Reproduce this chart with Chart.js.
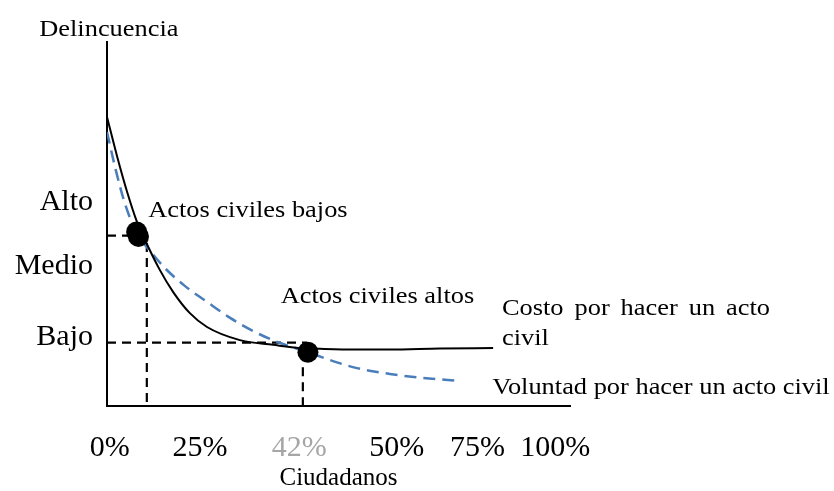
<!DOCTYPE html>
<html>
<head>
<meta charset="utf-8">
<script src="https://cdn.jsdelivr.net/npm/chart.js@4/dist/chart.umd.min.js"></script>
<style>
  html, body { margin: 0; background: #fff; }
  #wrap { width: 834px; height: 491px; }
</style>
</head>
<body>
<div id="wrap"><canvas id="chart" width="834" height="491"></canvas></div>
<script>
// x: share of citizens, drawn axis spans 0-100; y: crime level, 0-100
const costX = [0, 2.2, 4.4, 6.5, 8.2, 11.4, 14.3, 17.9, 21.6, 28.7, 35.9, 41.7, 46.0, 53.6, 61.1, 71.9, 83.4];
const costY = [79.4, 68.5, 58.6, 50.5, 45.6, 37.4, 31.3, 25.5, 21.7, 18.1, 16.8, 15.9, 15.7, 15.5, 15.5, 15.8, 15.9];

const willX = [0, 1.9, 3.9, 6.5, 9.3, 12.5, 16.8, 21.6, 26.6, 32.0, 37.4, 43.4, 48.2, 54.0, 61.1, 68.3, 76.2];
const willY = [75.3, 64.8, 55.5, 47.3, 42.6, 37.9, 33.0, 28.6, 24.2, 20.3, 17.3, 14.8, 12.6, 10.4, 8.8, 7.7, 6.9];

// equilibrium points ("actos civiles bajos" is drawn as two overlapping dots)
const dotX = [6.4, 6.8, 43.4];
const dotY = [47.8, 46.6, 14.8];

// dashed reading lines
const levelY = [46.8, 17.4];
const levelEnd = [6.4, 43.2];
const cutX = [8.6, 42.3];
const cutTop = [44.8, 14.8];

const xTickAt = [0.6, 20.1, 41.5, 62.6, 80.0, 96.8];
const xTickLabels = ['0%', '25%', '42%', '50%', '75%', '100%'];
const yTickAt = [55.9, 38.5, 19.0];
const yTickLabels = ['Alto', 'Medio', 'Bajo'];

const SERIF = "'Liberation Serif', 'Times New Roman', serif";
Chart.defaults.font.family = SERIF;
Chart.defaults.color = '#000';

const pts = (xs, ys) => xs.map((x, i) => ({ x: x, y: ys[i] }));

const guides = [];
levelY.forEach((y, i) => guides.push([{ x: 0, y: y }, { x: levelEnd[i], y: y }]));
cutX.forEach((x, i) => guides.push([{ x: x, y: cutTop[i] }, { x: x, y: 0 }]));

const datasets = [
  {
    type: 'scatter',
    data: pts(dotX, dotY),
    pointRadius: 10.5,
    pointBackgroundColor: '#000',
    pointBorderWidth: 0,
    clip: false
  },
  {
    data: pts(costX, costY),
    borderColor: '#000',
    borderWidth: 2,
    pointRadius: 0,
    cubicInterpolationMode: 'monotone'
  },
  {
    data: pts(willX, willY),
    borderColor: '#4a7ebb',
    borderWidth: 2.5,
    borderDash: [12, 7],
    pointRadius: 0,
    cubicInterpolationMode: 'monotone'
  }
].concat(guides.map(g => ({
  data: g,
  borderColor: '#000',
  borderWidth: 2.2,
  borderDash: [9, 6],
  pointRadius: 0
})));

// free text, anchored in data units (left / baseline unless noted)
const notes = [
  { text: 'Delincuencia', x: 0.4, y: 101.6, align: 'center' },
  { text: 'Actos civiles bajos', x: 8.9, y: 52.0 },
  { text: 'Actos civiles altos', x: 37.5, y: 28.2 },
  { text: ['Costo', 'por', 'hacer', 'un', 'acto'], x: 85.3, x2: 143.2, y: 25.0 },
  { text: 'civil', x: 85.3, y: 16.8 },
  { text: 'Voluntad por hacer un acto civil', x: 83.2, y: 3.4 }
];

const notesPlugin = {
  id: 'notes',
  afterDraw(chart) {
    const ctx = chart.ctx;
    const sx = chart.scales.x, sy = chart.scales.y;
    const stretch = 1.1;
    ctx.save();
    ctx.font = '24px ' + SERIF;
    ctx.fillStyle = '#000';
    ctx.textBaseline = 'alphabetic';
    const put = (t, px, py, align) => {
      ctx.save();
      ctx.translate(px, py);
      ctx.scale(stretch, 1);
      ctx.textAlign = align || 'left';
      ctx.fillText(t, 0, 0);
      ctx.restore();
    };
    notes.forEach(n => {
      const px = sx.getPixelForValue(n.x);
      const py = sy.getPixelForValue(n.y);
      if (Array.isArray(n.text)) {
        // justified line
        const end = sx.getPixelForValue(n.x2);
        const widths = n.text.map(w => ctx.measureText(w).width * stretch);
        const total = widths.reduce((a, b) => a + b, 0);
        const gap = (end - px - total) / (n.text.length - 1);
        let cx = px;
        n.text.forEach((w, i) => {
          put(w, cx, py);
          cx += widths[i] + gap;
        });
      } else {
        put(n.text, px, py, n.align);
      }
    });
    ctx.restore();
  }
};

new Chart(document.getElementById('chart').getContext('2d'), {
  type: 'line',
  data: { datasets: datasets },
  options: {
    responsive: false,
    animation: false,
    events: [],
    layout: { padding: { top: 42, right: 264, bottom: 0, left: 0 } },
    plugins: { legend: { display: false }, tooltip: { enabled: false } },
    scales: {
      x: {
        type: 'linear',
        min: 0,
        max: 100,
        grid: { display: false, drawTicks: false },
        border: { display: true, color: '#000', width: 2 },
        afterBuildTicks: s => { s.ticks = xTickAt.map(v => ({ value: v })); },
        afterFit: s => { s.height = 85; },
        ticks: {
          autoSkip: false,
          maxRotation: 0,
          padding: 24,
          font: { size: 30, lineHeight: 1.2 },
          color: c => (c.index === 2 ? '#a6a6a6' : '#000'),
          callback: (v, i) => xTickLabels[i]
        },
        title: {
          display: true,
          text: 'Ciudadanos',
          font: { size: 25, lineHeight: 1 },
          padding: { top: 0, bottom: 0 },
          color: '#000'
        }
      },
      y: {
        type: 'linear',
        min: 0,
        max: 100,
        grid: { display: false, drawTicks: false },
        border: { display: true, color: '#000', width: 2 },
        afterBuildTicks: s => { s.ticks = yTickAt.map(v => ({ value: v })); },
        afterFit: s => { s.width = 107; },
        ticks: {
          autoSkip: false,
          padding: 14,
          font: { size: 30, lineHeight: 1.2 },
          callback: (v, i) => yTickLabels[i]
        }
      }
    }
  },
  plugins: [notesPlugin]
});
</script>
</body>
</html>
